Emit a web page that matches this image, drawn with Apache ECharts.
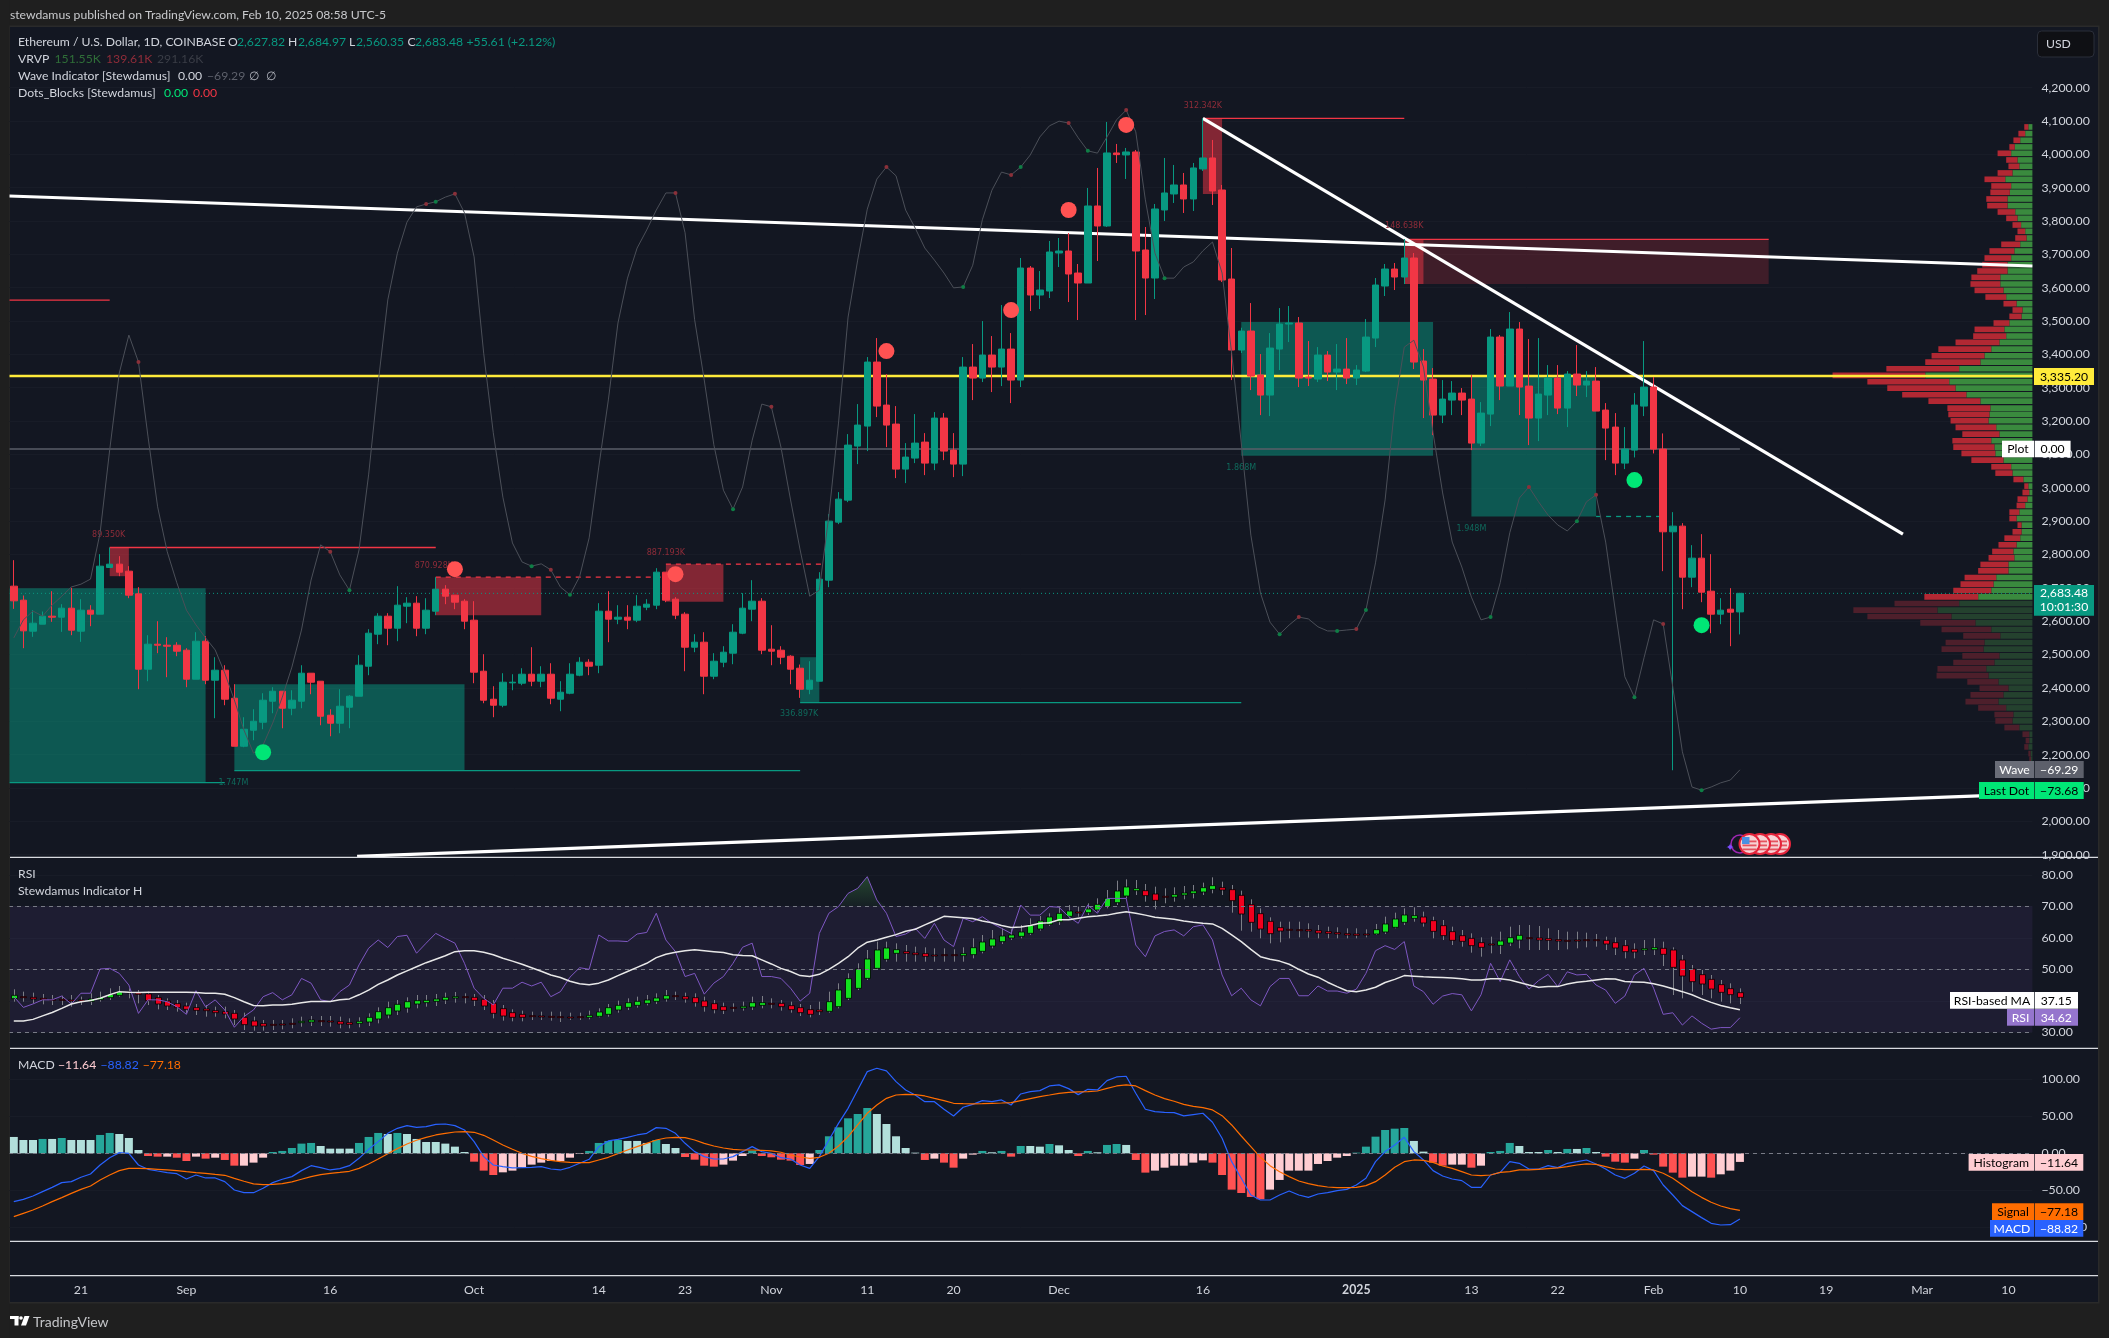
<!DOCTYPE html>
<html><head><meta charset="utf-8"><style>html,body{margin:0;padding:0;background:#1f1f1f}#c{width:2109px;height:1338px}</style>
<script src="https://cdn.jsdelivr.net/npm/echarts@6/dist/echarts.min.js"></script></head><body><div id="c"></div>
<script>
const firstDay='2024-08-14', dayCount=211;
const tickDates=['2024-08-21','2024-09-01','2024-09-16','2024-10-01','2024-10-14','2024-10-23','2024-11-01','2024-11-11','2024-11-20','2024-12-01','2024-12-16','2025-01-01','2025-01-13','2025-01-22','2025-02-01','2025-02-10','2025-02-19','2025-03-01','2025-03-10'];
const tickLabels=['21','Sep','16','Oct','14','23','Nov','11','20','Dec','16','2025','13','22','Feb','10','19','Mar','10'];
const priceTicks=[1900,2000,2100,2200,2300,2400,2500,2600,2700,2800,2900,3000,3100,3200,3300,3400,3500,3600,3700,3800,3900,4000,4100,4200];
const rsiTicks=[30,40,50,60,70,80];
const macdTicks=[-100,-50,0,50,100];
// open, close, low, high
const priceBars=[[2705,2661,2637,2783],[2663,2571,2519,2677],[2570,2594,2553,2633],[2591,2615,2591,2629],[2615,2612,2598,2690],[2612,2639,2568,2651],[2639,2573,2558,2700],[2570,2633,2538,2666],[2633,2621,2585,2648],[2621,2765,2621,2801],
[2761,2771,2761,2821],[2771,2747,2735,2795],[2750,2678,2669,2765],[2682,2456,2396,2702],[2456,2531,2420,2558],[2531,2528,2504,2600],[2528,2525,2432,2552],[2528,2510,2495,2537],[2513,2426,2402,2519],[2426,2540,2426,2567],
[2540,2423,2411,2555],[2423,2453,2309,2492],[2453,2366,2348,2468],[2369,2225,2225,2411],[2225,2276,2222,2312],[2273,2300,2243,2336],[2297,2363,2276,2384],[2360,2390,2324,2402],[2390,2339,2279,2390],[2339,2363,2318,2393],
[2360,2444,2339,2468],[2444,2417,2381,2444],[2420,2315,2288,2420],[2318,2294,2255,2336],[2294,2345,2264,2396],[2342,2375,2279,2378],[2375,2468,2375,2498],[2465,2564,2438,2576],[2561,2615,2531,2624],[2615,2579,2528,2624],
[2579,2648,2540,2705],[2645,2654,2594,2672],[2654,2579,2555,2675],[2579,2633,2561,2669],[2630,2696,2618,2732],[2696,2675,2651,2708],[2678,2657,2636,2678],[2660,2600,2576,2666],[2603,2447,2414,2660],[2450,2363,2354,2501],
[2366,2348,2312,2405],[2348,2417,2342,2444],[2415,2417,2393,2441],[2414,2441,2408,2459],[2441,2420,2405,2522],[2420,2441,2402,2465],[2441,2369,2351,2474],[2366,2387,2330,2420],[2384,2441,2381,2474],[2438,2477,2435,2492],
[2477,2465,2438,2486],[2468,2630,2444,2654],[2630,2606,2537,2690],[2606,2612,2591,2648],[2612,2603,2576,2648],[2603,2645,2597,2678],[2642,2651,2633,2666],[2648,2747,2636,2759],[2747,2663,2657,2747],[2666,2618,2606,2672],
[2621,2522,2450,2627],[2522,2537,2507,2561],[2537,2435,2381,2567],[2435,2480,2426,2504],[2477,2507,2462,2525],[2504,2567,2471,2591],[2564,2639,2561,2684],[2636,2660,2600,2723],[2660,2513,2501,2669],[2516,2510,2468,2588],
[2513,2492,2471,2525],[2495,2456,2411,2498],[2459,2396,2370,2470],[2396,2423,2381,2480],[2420,2726,2420,2747],[2723,2900,2702,2921],[2897,2966,2891,2987],[2963,3128,2957,3161],[3125,3188,3071,3251],[3185,3377,3110,3392],
[3377,3245,3212,3449],[3248,3188,3122,3341],[3191,3056,3029,3245],[3056,3092,3014,3134],[3089,3134,3074,3221],[3137,3074,3038,3164],[3074,3209,3053,3227],[3209,3110,3083,3224],[3113,3071,3032,3164],[3071,3362,3035,3392],
[3362,3329,3263,3431],[3329,3398,3317,3500],[3398,3362,3287,3455],[3362,3416,3305,3548],[3416,3323,3254,3464],[3323,3659,3302,3689],[3659,3578,3530,3665],[3578,3593,3536,3650],[3590,3707,3569,3740],[3704,3710,3662,3749],
[3710,3641,3557,3764],[3644,3614,3503,3671],[3614,3845,3614,3899],[3845,3785,3680,3959],[3785,4004,3782,4097],[4004,3999,3974,4031],[3998,4007,3926,4019],[4007,3710,3503,4013],[3713,3629,3518,3782],[3629,3836,3566,3851],
[3833,3884,3800,3989],[3881,3908,3854,3968],[3908,3866,3824,3944],[3866,3959,3830,3974],[3956,3989,3950,4108],[3989,3890,3848,4043],[3893,3623,3617,3908],[3626,3413,3323,3719],[3413,3470,3404,3480],[3470,3335,3293,3554],
[3338,3278,3218,3401],[3278,3419,3215,3464],[3416,3491,3353,3539],[3491,3494,3437,3545],[3494,3329,3302,3512],[3332,3329,3305,3440],[3326,3398,3317,3422],[3398,3347,3320,3410],[3347,3356,3293,3431],[3356,3329,3311,3449],
[3329,3353,3308,3368],[3350,3452,3347,3506],[3449,3608,3422,3629],[3605,3656,3575,3671],[3656,3632,3593,3674],[3632,3689,3611,3746],[3689,3377,3356,3704],[3380,3323,3209,3416],[3326,3218,3158,3359],[3218,3266,3194,3323],
[3263,3284,3218,3320],[3284,3263,3218,3299],[3266,3134,3113,3338],[3134,3224,3125,3257],[3221,3452,3185,3476],[3452,3305,3263,3458],[3305,3476,3305,3527],[3476,3302,3218,3497],[3305,3209,3128,3446],[3209,3281,3140,3449],
[3278,3329,3218,3368],[3329,3239,3221,3368],[3239,3341,3182,3350],[3341,3308,3275,3428],[3308,3320,3272,3350],[3320,3230,3230,3362],[3233,3179,3083,3254],[3182,3074,3038,3224],[3074,3116,3056,3182],[3113,3248,3091,3284],
[3245,3302,3215,3440],[3302,3116,3103,3332],[3116,2868,2750,3163],[2868,2885,2153,2927],[2885,2732,2636,2894],[2732,2789,2702,2828],[2789,2687,2657,2861],[2690,2621,2564,2801],[2621,2633,2591,2669],[2636,2627,2525,2699],[2627.82,2683.48,2560.35,2684.97]];
const waveValues=[-40.8,-36.9,-35,-36.1,-33.7,-31.8,-29.8,-29.2,-28.1,-18.1,-0.2,16.4,24.6,18.8,2.6,-12.5,-22.2,-28.9,-34.8,-38,-40.8,-43.4,-48.4,-54.2,-60.7,-65.7,-63.9,-59.2,-53.6,-47.1,-39.1,-28.3,-20.7,-22.2,-27.2,-30.5,-21.8,-5.6,14.3,32.2,42.3,49,52.3,52.9,53.4,54.4,55.1,51,41.5,20.7,3.5,-10.4,-20.3,-24.4,-25.3,-24.8,-26.1,-29.8,-31.5,-27.6,-19.2,-3.9,10.6,27.2,36.9,43.4,47.3,51.6,55.3,55.3,46.7,27.9,14.9,0.9,-8.9,-13,-8.2,1.9,9.7,9.1,0.4,-11,-21.8,-31.8,-30.5,-14.3,5.6,28.5,40.8,51.8,58.3,60.9,59,51.6,47.7,43.4,40.8,38,34.8,35,39.7,49.5,55.9,59.8,59.2,60.9,63.5,67.4,69.8,70.8,70.4,67.2,64.4,63.9,67.4,71.1,73.2,68.5,53.8,42.3,36.9,36.9,39.3,40.4,42.8,44.7,38,20.7,1.3,-18.6,-31.1,-37.4,-40,-38,-36.3,-36.7,-38.4,-39.3,-39.3,-39.1,-38.9,-34.8,-24.6,-11,9.1,22,23.5,17.7,3.5,-9.5,-20.1,-25.5,-32,-36.9,-36.3,-28.9,-18.1,-10.6,-8.2,-11.4,-14.3,-16.4,-17.7,-15.6,-11.4,-9.9,-20.1,-34.8,-49.2,-53.6,-45.1,-36.9,-37.8,-51.4,-65.4,-73,-73.7,-73,-72.1,-71.5,-69.29];
const waveRedDots=[13,33,43,46,56,69,79,91,104,110,116,134,140,158,165,172];
const waveGreenDots=[35,44,54,58,75,99,105,112,120,132,138,141,154,163,169,176];
const sellDotDays=[46,69,91,104,110,116];
const sellDotPrices=[2756,2741,3410,3533,3833,4088];
const buyDotDays=[26,169,176];
const buyDotPrices=[2207,3023,2588];
// zones: start day, end day, top price, bottom price
const zoneStart=[-0.5,23,10,44,68,82,124,128,152,145,145];
const zoneEnd=[20,47,12,55,74,84,126,148,165,183,147];
const zoneTop=[2699,2411,2821,2732,2771,2492,4108,3497,3333,3745,3745];
const zoneBottom=[2116,2152,2735,2618,2658,2356,3881,3096,2914,3611,3611];
const zoneKind=['demand','demand','supply','supply','supply','demand','supply','demand','demand','faint','supply'];
const levelStart=[-0.5,23,10,44,68,82,124,152,165,-0.5,145];
const levelEnd=[22,82,44,69,84.4,128,145,152,172,10,183];
const levelPrice=[2116,2152,2821,2732,2771,2356,4108,2914,2914,3563,3745];
const levelKind=['demand','demand','supply','supplyDash','supplyDash','demand','supply','demand','demandDash','supply','supply'];
const zoneLabelText=['89.350K','870.928K','887.193K','1.747M','336.897K','312.342K','148.638K','1.868M','1.948M'];
const zoneLabelDay=[9.9,43.8,68,22.9,81.9,124,145,128,152];
const zoneLabelPrice=[2859,2766,2805,2116,2323,4146,3785,3061,2878];
const zoneLabelKind=['supply','supply','supply','demand','demand','supply','supply','demand','demand'];
const lastClose=2683.48, pocPrice=3335.20, plotZeroPrice=3116.2;
const trendUpperDays=[-0.5,210.5], trendUpperPrices=[3875,3665];
const trendDownDays=[124,197], trendDownPrices=[4108,2861];
const trendLowerDays=[35.8,210.5], trendLowerPrices=[1895,2082];
const profilePrice=[4082,4062,4042,4022,4003,3983,3964,3944,3925,3905,3886,3866,3846,3827,3808,3788,3769,3749,3730,3710,3689,3669,3650,3631,3611,3592,3572,3552,3533,3514,3494,3475,3455,3436,3416,3396,3377,3357,3337,3318,3299,3279,3260,3239,3220,3201,3181,3161,3141,3122,3103,3083,3063,3044,3025,3005,2986,2966,2947,2927,2908,2888,2868,2849,2829,2809,2790,2770,2751,2731,2711,2692,2673,2653,2633,2614,2595,2575,2556,2536,2516,2496,2476,2457,2437,2418,2399,2379,2359,2340,2320,2301,2281,2261,2242,2223,2203,2186];
const profileUp=[9,16,27,39,47,33,29,44,60,47,50,55,55,38,33,25,16,13,27,40,47,55,55,71,71,64,58,35,22,24,51,62,58,73,91,106,115,162,237,184,170,146,115,93,95,97,80,73,91,84,82,64,47,44,20,9,7,11,16,29,35,24,24,27,35,42,40,53,53,80,86,91,120,162,210,179,126,91,71,106,108,73,84,102,97,75,53,64,75,58,42,44,29,7,7,9,4,3];
const profileDown=[9,15,15,12,30,25,24,33,46,44,43,47,45,39,25,19,17,25,42,55,59,56,67,64,66,64,46,29,22,27,35,66,73,97,117,117,122,161,205,181,151,142,115,95,91,84,90,82,86,91,75,71,44,38,22,9,15,22,19,22,16,9,20,35,40,47,57,62,67,70,73,84,119,143,186,186,122,110,82,86,93,82,91,108,115,69,64,73,73,62,42,38,33,15,8,9,5,4];
const rsiValues=[41.3,37.9,39,40.3,40.3,41.5,39,42.4,42.4,50.1,50.3,48.7,45,36,40.3,40.3,39.7,38.1,35.7,43.2,38.1,40.3,37.1,31.6,35,37.1,41.3,42.6,40.3,41.9,47.1,45.6,40.3,39.7,42.9,45,51.4,56.7,59.3,56.9,60.4,60.8,55.1,58.3,61.4,59.8,58.3,51.9,44,40.8,38.7,44,44,45.9,44.7,45.9,41.3,42.9,47.5,50.5,50,60.9,59,59,58.8,61.2,61.7,67.8,59.3,55.6,47.7,48.7,42.1,45.6,47.7,51.9,57,58.3,47.7,47.7,47.1,44,39.9,42.4,61.4,67.8,69.9,74.1,75.7,79.4,72,67.8,60.4,61.2,63,59.8,64.6,59.3,57.2,66.2,65.1,66.7,64.6,63,61.4,70.4,67.2,67.2,69.9,69.7,66.7,64.6,70.4,67.8,72.5,72.5,72.5,57.7,54,60.6,62,62.5,60.6,63.5,64.1,59.3,48.2,41.6,44,40.3,38.4,44.5,47.1,47.1,41.6,41.6,44.7,43.1,43.1,42.4,43.7,48.7,55.9,57.5,56.3,58.8,44.7,42.9,38.9,41.5,42.3,41.9,36.8,41.9,51.9,46.1,53,47.7,43.7,46.4,48.4,44.5,49.2,48.2,48.4,45,43.4,39.2,41.5,48.2,50.3,44,35.7,36.2,32.3,35.2,32.9,31,31.5,31.5,34.62];
const rsiMaValues=[33.6,33.6,34.1,35.2,36.3,37.6,39,39.7,40.1,40.8,41.9,42.9,42.7,42.6,42.7,42.7,42.7,42.7,42.7,42.6,42.4,42.4,42.1,41,39.7,38.5,38.4,38.7,38.7,38.9,39.4,39.8,39.8,39.8,40.3,40.6,41.9,43.4,45.2,46.6,48.2,49.5,50.8,52.1,53.2,54.3,55.6,55.9,55.9,55.4,54.6,53.5,52.6,51.6,50.5,49.4,48.2,47.4,46.2,45.4,45.1,45.6,46.6,48,49.3,50.6,51.9,53.7,54.8,55.4,55.9,56.2,55.9,55.6,55.3,54.6,54.4,54.3,53,51.7,50.3,49.3,48,47.7,48.4,50,51.9,54,56.7,58.6,59.3,60.2,61,62.1,62.7,64.1,65.4,66.8,66.6,66.4,66.1,65.3,64.8,63.9,63.3,63.4,63.9,64.6,64.8,65.7,65.7,66.2,66.7,66.9,67.2,67.8,68.3,67.8,67.2,66.5,66.2,65.9,65.3,64.9,64.6,64.4,63,60.9,58.8,56.3,54,53.2,52.6,51.6,50,48.5,47.5,45.9,44.5,43.2,42.9,43.4,44.3,45.8,46.8,48,47.8,47.6,47.5,47.4,47.2,47,46.6,46.6,47,47,46.6,45.8,45,44.3,44.5,44.5,45.3,45.9,46.2,46.6,47,46.9,46.1,46,45.9,45.4,44.7,43.8,42.9,41.9,40.6,39.5,38.5,37.8,37.15];
// Stewdamus Indicator H (own hidden scale): open, close, low, high
const indicatorBars=[[58.4,59.4,57.5,61.2],[59,58.8,57.5,60.5],[58.8,58.3,57,60.2],[58.5,58.1,56.7,59.8],[58.2,58.1,56.5,59.5],[58.2,58,56.5,59.3],[58,57.9,56,59.5],[58,57.9,56.5,59],[57.6,58.3,56.5,60],[58.1,58.8,57.5,60.5],
[58.7,59.7,58,61.5],[59.4,60.5,59,62.2],[60.4,60.2,58.5,61.5],[60.1,59.7,57,61],[59.8,57.8,56.5,60.5],[58.7,56.8,55.2,59.5],[57.7,56.2,55,58.5],[56.9,55.7,54.5,58],[56.2,55.2,54,57.2],[55.7,54.9,53.5,56.8],
[55.3,54.8,53,56.5],[54.8,54.2,53,56],[54.5,53.8,52.5,56],[54,52.3,50.5,55],[52.8,50.6,49,54.2],[51.7,50.2,48.8,53],[50.9,50.2,48.8,52],[50.7,50.6,49,52],[50.8,50.7,49.2,52],[51,50.9,49.5,52.5],
[51.2,51.6,50,53],[51.4,52,50.2,53.2],[51.8,51.6,50.2,53.2],[51.7,51.4,50,53.2],[51.5,50.8,49.5,53],[51.2,50.7,49.5,52.5],[51,51.6,49.8,52.8],[51.4,52.8,50.2,54],[52.3,54.5,51,55.8],[53.5,55.7,52.5,57.5],
[54.7,56.7,53.5,58],[55.6,57.5,54.2,58.8],[56.8,57.8,55.5,59.5],[57.2,57.9,56,59.5],[57.6,58.3,56.2,59.8],[58,58.8,56.8,60.2],[58.6,59,57.2,60.4],[59,58.8,57,60],[58.8,57.9,56.2,59.8],[58.2,56.2,55,59.5],
[57,54,52.5,58],[55.4,53.2,51.8,56.5],[54.2,52.8,51.6,55.2],[53.7,52.8,51.6,54.8],[53.3,53.1,52,54.5],[53.2,53,52,54.5],[53.1,53,51.8,54.5],[53,52.7,51.4,54.5],[52.9,52.8,52,54.2],[53,52.8,52,54.2],
[52.8,53.4,52.2,54.8],[53.1,54.4,52.8,55.5],[53.7,55.7,53,56.8],[55,56.4,54.2,57.8],[55.8,57.2,55,58.5],[56.4,57.6,55.7,59],[57,58,56.4,59.5],[57.6,58.6,56.8,60],[58.3,59.3,57.5,61],[59.3,59,58,60.5],
[59,58.3,57.2,60.2],[58.7,57.2,56,60],[57.7,56,54.5,59],[56.9,55.1,54,58],[56,54.9,53.8,57.2],[55.8,55.5,54.5,57],[55.6,56.1,54.8,57.5],[55.9,57.2,55,59],[56.4,57.2,55.5,59.2],[57,56.9,55.5,58.5],
[57,56,54.8,58],[56.3,55.1,54.2,57.5],[55.7,54.2,53.2,56.8],[55.1,53.7,52.8,56.5],[55,54.5,53.5,57.5],[54.6,57.5,54.2,60.5],[56,61,55.5,63],[58.5,64.4,58,66],[61.5,67.3,61,69],[64.5,70.3,64,73],
[67.5,73,67,75.5],[70.2,73.6,69.5,75.5],[72,73.1,69.5,75],[72.5,72,69.5,74.5],[72.1,71.6,69.5,74],[71.9,71.1,69.5,73.8],[71.5,71.3,69.5,73.5],[71.6,71.4,69.5,73.5],[71.6,71.3,69.5,73.2],[71.3,71.9,69.5,73.8],
[71.6,73.7,70.5,76.5],[72.6,75.4,72,77.5],[74.2,76.3,73.5,79],[75.5,77.2,74.8,79.5],[76.6,77.5,76,79.2],[77.1,78.4,76.5,80.5],[78,80.5,77.5,82.5],[79.3,81.7,78.8,83.2],[80.7,82.9,80.2,84],[81.5,84,80.5,86],
[83.1,84.7,82.5,86.5],[84.4,84.2,83,86],[84.2,85.3,83.5,87],[85,86.7,84.5,88.5],[86,88.5,85.5,91],[87.2,90.7,86.5,93.8],[89.2,91.9,88.5,94.2],[90.8,91.4,89.5,94],[90.8,89.3,87.5,92.8],[89.8,87.9,85.2,92],
[89.1,88.8,87,91.5],[88.9,89.6,87.5,91.8],[89.5,90.1,88.2,92.2],[90,90.7,88.5,92.5],[90.4,91.7,89.5,93.2],[91.2,92.3,90,94.8],[91.7,91,89.5,93.5],[91.1,87.8,84.2,92.5],[89.4,83.8,78.8,90.8],[86.6,81.3,78.5,88.2],
[83.9,79.3,76.5,85.5],[81.6,77.9,75,82.8],[79.7,78.7,75.3,81.5],[79.2,79,76.5,81.5],[79.1,79,76.8,81.5],[79.1,78.7,76.7,81],[78.8,78.1,76.5,80.5],[78.5,78,76.5,80],[78.2,77.8,76.5,79.8],[77.9,77.5,76.5,79.5],
[77.8,77.4,76.5,79.5],[77.8,77.6,76.8,79.2],[77.8,79.1,77.5,80.8],[78.4,80.8,77.8,83],[79.8,82.3,79.5,84.2],[81.3,83.5,80.5,85.5],[82.5,83.3,81.5,85.8],[82.9,81.1,80,84.5],[81.8,78.6,76.5,83],[80.3,77.3,76,82],
[78.5,75.9,74.5,80],[77.3,75.6,74,79],[76.5,74.3,72.2,78],[75.2,73.8,71,76.8],[74.8,74.6,72,77],[74.4,75.7,71.8,78.5],[75.1,76.7,74.2,80],[76,77.4,73.5,80.5],[76.7,76.5,73,80.5],[76.6,76,73,80.2],
[76.4,75.9,73,79.5],[76.1,75.7,73,79],[75.9,75.7,73.2,78.5],[76,75.9,73.5,78.5],[76.1,76,73.8,78.2],[76.1,75.9,74,77.8],[75.9,74.8,73,77],[75.2,73.6,71.5,76.8],[74.3,72.5,70.5,76],[73.2,72.4,70.5,75],
[73,73.4,71.5,76],[73.1,73.7,71.5,76.5],[73.5,71.7,68.2,75.5],[73,67.8,59.5,73.8],[70,65.2,58.5,71.5],[67.3,63.5,60.5,68.5],[65.6,62.8,59.5,67],[64.2,61.3,58.5,65.5],[62.6,60.3,57.5,64],[61.4,59.6,57,63],[60.2,58.8,56.8,61.5]];
const macdHist=[22.1,18,18,19.4,19.4,20.7,18,18,18,24.8,27.5,26.1,20.7,4.5,-3.6,-4.5,-4.5,-5.9,-10.4,-4.5,-7.2,-5.9,-9,-16.7,-16.7,-12.6,-5.9,1.8,3.2,7.2,13.1,14,9.9,6.3,6.3,6.3,14,22.1,27.5,26.1,27.5,26.1,19.4,15.3,15.3,13.1,9,1.8,-11.3,-23.4,-29.3,-25.7,-23.4,-18.9,-15.3,-12.6,-10.4,-10.4,-5.9,-0.9,3.2,14,16.7,18,16.7,16.7,14,18,12.6,7.2,-5,-8.6,-16.7,-18,-15.3,-9.9,-3.6,3.6,-3.6,-5.4,-8.6,-9.9,-15.8,-14.4,4.5,23,35.1,47.3,53.1,61.2,53.1,39.6,23,7.2,0.9,-9,-7.2,-12.6,-19.4,-7.2,-1.8,3.2,1.4,3.2,-4.5,9.9,9.9,9,12.6,10.8,4.5,-3.6,3.2,1.4,11.3,12.6,11.3,-9,-26.1,-23.4,-19.4,-16.7,-16.7,-12.6,-9.5,-12.6,-29.3,-49.1,-53.6,-59,-62.1,-49.1,-36,-23.4,-23.4,-23.4,-14.4,-10.4,-5.9,-3.6,0.9,9,22.5,31.5,33.3,34.2,16.7,2.3,-12.6,-16.7,-15.3,-15.3,-19.4,-16.7,1.8,3.2,14,9.9,1.8,1.8,4.5,1.8,5.9,5.9,7.2,1.8,-4.5,-11.3,-12.6,-7.2,4.5,-1.8,-18,-26.1,-32.9,-31.5,-31.5,-32.9,-28.4,-23.4,-11.64];
const macdLine=[-65.3,-62.2,-57.7,-51.8,-46,-39.6,-38.3,-32.4,-27.9,-15.8,-5.9,0.9,0,-15.8,-21.6,-23.9,-26.1,-27.5,-34.7,-29.3,-33.3,-33.3,-38.3,-49.6,-53.2,-53.2,-47.3,-39.6,-35.1,-31.5,-23.4,-16.7,-19.4,-22.5,-20.7,-16.7,-6.8,5.4,15.8,27,33.8,37.4,35.1,36,39.2,39.6,37.4,31.5,15.8,-4.5,-15.8,-18,-19.8,-19.4,-18.9,-18,-21.2,-22.5,-18.9,-13.5,-8.1,9,16.7,18.9,21.6,24.8,27,34.7,33.8,27,13.5,2.3,-4.5,-7.7,-7.7,-4.5,2.3,9,2.3,0,-5.9,-7.7,-15.8,-20.3,-4.5,18,40.5,60.8,85.6,110.4,114.9,111.3,96.9,85.6,78.8,69.8,69.8,59.5,50.5,62.2,66.2,71.2,69.8,72.1,65.3,80.2,83.3,84.7,91,92.4,87.4,79.3,86.5,85.6,98.2,103.2,104.1,81.1,59.5,56.3,55.4,55,50.5,52.3,54.1,41.9,20.3,-11.3,-33.8,-56.3,-63.1,-63.1,-56.3,-50.9,-56.3,-59.5,-55,-53.2,-50.5,-48.7,-42.8,-33.8,-11.3,2.3,11.3,21.6,2.3,-9,-23.4,-30.6,-34.7,-36.9,-46,-46,-29.3,-25.7,-11.3,-13.5,-21.2,-21.2,-16.7,-19.4,-13.5,-11.3,-9,-14.4,-21.2,-29.3,-33.8,-27,-17.1,-23.4,-42.8,-56.3,-70.7,-78.8,-86.9,-94.6,-96.9,-96.4,-88.82];
const macdSignal=[-85.6,-81.1,-76.6,-71.2,-65.3,-59.9,-54.1,-48.7,-44.1,-36,-29.3,-23.4,-20.3,-20.3,-20.7,-21.6,-22.5,-23.4,-24.8,-26.1,-27,-28.4,-29.7,-33.8,-37.8,-41.4,-42.3,-41.9,-41,-38.7,-35.1,-31.5,-28.8,-27,-25.7,-24.3,-20.3,-14.4,-7.7,-0.5,6.3,12.6,17.6,21.6,24.8,27,28.8,29.3,28.4,24.3,18,11.3,5.4,0,-4.1,-7.2,-9.5,-11.3,-12.2,-12.6,-12.6,-9,-5.4,-0.5,4.5,9,13.5,18,20.7,21.6,21.2,18,13.5,9.9,7.2,5.4,4.5,4.5,4.1,3.2,1.4,-2.3,-5,-6.8,-5.4,0,9.9,22.5,38.3,54.1,65.3,74.3,78.8,79.7,79.3,77.5,74.3,71.2,67.6,67.1,66.7,67.1,67.6,68,68.5,71.2,73.9,76.6,78.8,81.1,82.4,82.9,83.3,84.2,87.8,91,92.4,91,84.7,78.8,73.9,70.3,66.2,63.5,61.7,58.6,50.9,38.3,23.4,9,-5.4,-16.7,-24.8,-31.5,-37.4,-41,-43.7,-45.5,-46.4,-46.4,-46,-43.7,-38.3,-29.3,-18.9,-11.3,-9,-9.5,-12.2,-17.1,-20.3,-24.8,-29.3,-30.2,-29.3,-25.7,-24.8,-22.5,-22.5,-21.6,-20.7,-19.8,-18,-15.8,-14.4,-14.9,-18,-21.2,-22.1,-22.1,-21.6,-22.5,-27,-33.8,-42.8,-51.8,-59.5,-66.2,-71.2,-74.8,-77.18];

const FONT='Lato', TXT='#d1d4dc', UP='#089981', DOWN='#f23645', YEL='#ffeb3b';
const categories=[];{const s=new Date(firstDay+'T00:00:00Z');for(let i=0;i<dayCount;i++){categories.push(new Date(s.getTime()+i*864e5).toISOString().slice(0,10));}}
const tickIndex={};tickDates.forEach((d,n)=>{tickIndex[categories.indexOf(d)]=tickLabels[n]});
const fmt=v=>(v<0?'\u2212':'')+Math.abs(v).toLocaleString('en-US',{minimumFractionDigits:2,maximumFractionDigits:2});

const L=9,W=2023.4;
const grids=[{left:L,width:W,top:27,height:830},{left:L,width:W,top:858,height:190.3},{left:L,width:W,top:1048.3,height:193},{left:L,width:W,top:1241.3,height:34.4}];
const hiddenCat=g=>({type:'category',gridIndex:g,data:categories,boundaryGap:true,show:false});
const xAxis=[hiddenCat(0),
 {type:'value',gridIndex:0,min:-0.5,max:210.5,show:false},
 {type:'value',gridIndex:0,min:0,max:4475,inverse:true,show:false},
 hiddenCat(1),hiddenCat(2),
 {type:'category',gridIndex:3,data:categories,boundaryGap:true,axisLine:{show:false},axisTick:{show:false},splitLine:{show:false},
  axisLabel:{interval:i=>tickIndex[i]!==undefined,formatter:(v,i)=>tickIndex[i]==='2025'?'{b|2025}':tickIndex[i],color:TXT,fontFamily:FONT,fontSize:12.3,margin:8,hideOverlap:false,rich:{b:{fontWeight:'bold',color:TXT,fontFamily:FONT,fontSize:12.3}}}}];
const faint={show:true,lineStyle:{color:'#181c27',width:1}};
const valAxis=(g,min,max,ticks)=>({type:'value',gridIndex:g,position:'right',min,max,axisLine:{show:false},
 axisTick:{show:false,customValues:ticks},splitLine:faint,
 axisLabel:{customValues:ticks,formatter:fmt,color:TXT,fontFamily:FONT,fontSize:12.3,margin:9,showMinLabel:true,showMaxLabel:true}});
const hiddenVal=(g,min,max)=>({type:'value',gridIndex:g,min,max,show:false});
const yAxis=[valAxis(0,1892.9,4381.7,priceTicks),hiddenVal(0,-88.12,91.14),valAxis(1,24.92,85.33,rsiTicks),hiddenVal(1,43.51,100.6),valAxis(2,-118.9,141.9,macdTicks),hiddenVal(3,0,1)];

const zoneFill={demand:'rgba(8,153,129,0.5)',supply:'rgba(242,54,69,0.5)',faint:'rgba(242,54,69,0.2)'};
const lineLook={demand:{c:UP},demandDash:{c:UP,d:[5,5]},supply:{c:DOWN},supplyDash:{c:DOWN,d:[5,5]}};
const labelColor={demand:'#0f6a5c',supply:'#8f2c39'};
const profileSeries={type:'custom',xAxisIndex:2,yAxisIndex:0,z:1,silent:true,clip:false,data:profilePrice.map((p,i)=>[profileUp[i],p,profileDown[i]]),
 renderItem(params,api){const i=params.dataIndex,p=profilePrice[i],u=profileUp[i],d=profileDown[i],bright=p>=2660;
  const h=api.size([0,17])[1],r=api.coord([0,p]),a=api.coord([u,p]),b=api.coord([u+d,p]),y=r[1]-h/2;
  return {type:'group',children:[
   {type:'rect',shape:{x:a[0],y,width:r[0]-a[0],height:h},style:{fill:bright?'#3a8a3e':'#24412e'}},
   {type:'rect',shape:{x:b[0],y,width:a[0]-b[0],height:h},style:{fill:bright?'#b22833':'#4d1f2b'}}]};}};
const zoneSeries={type:'custom',xAxisIndex:1,yAxisIndex:0,z:2,silent:true,data:zoneStart.map((s,i)=>[s,zoneTop[i],zoneEnd[i],zoneBottom[i]]),
 renderItem(params,api){const i=params.dataIndex,a=api.coord([zoneStart[i],zoneTop[i]]),b=api.coord([zoneEnd[i],zoneBottom[i]]);
  return {type:'rect',shape:{x:a[0],y:a[1],width:b[0]-a[0],height:b[1]-a[1]},style:{fill:zoneFill[zoneKind[i]]}};}};
const levelSeries={type:'custom',xAxisIndex:1,yAxisIndex:0,z:3,silent:true,data:levelStart.map((s,i)=>[s,levelPrice[i],levelEnd[i]]),
 renderItem(params,api){const i=params.dataIndex,a=api.coord([levelStart[i],levelPrice[i]]),b=api.coord([levelEnd[i],levelPrice[i]]),k=lineLook[levelKind[i]];
  return {type:'line',shape:{x1:a[0],y1:a[1],x2:b[0],y2:b[1]},style:{stroke:k.c,lineWidth:1.3,lineDash:k.d||null}};}};
const zoneLabelSeries={type:'custom',xAxisIndex:1,yAxisIndex:0,z:4,silent:true,data:zoneLabelDay.map((d,i)=>[d,zoneLabelPrice[i]]),
 renderItem(params,api){const i=params.dataIndex,a=api.coord([zoneLabelDay[i],zoneLabelPrice[i]]);
  return {type:'text',style:{x:a[0],y:a[1],text:zoneLabelText[i],fill:labelColor[zoneLabelKind[i]],font:'8px "DejaVu Sans"',textAlign:'center',textVerticalAlign:'middle'}};}};
const seg=(days,prices,color,width,z)=>({type:'line',xAxisIndex:1,yAxisIndex:0,z,symbol:'none',silent:true,data:days.map((d,i)=>[d,prices[i]]),lineStyle:{color,width}});
const candle={type:'candlestick',xAxisIndex:0,yAxisIndex:0,z:5,barWidth:7,silent:true,data:priceBars,
 itemStyle:{color:UP,color0:DOWN,borderColor:UP,borderColor0:DOWN,borderWidth:1}};
const wave={type:'line',xAxisIndex:0,yAxisIndex:1,z:6,symbol:'none',silent:true,data:waveValues,lineStyle:{color:'#4b4f58',width:1}};
const pts=(idx,vals)=>idx.map((d,i)=>[d,vals(i,d)]);
const dots=(idx,fn,color,size,yi,z)=>({type:'scatter',xAxisIndex:0,yAxisIndex:yi,z,symbolSize:size,silent:true,data:pts(idx,fn),itemStyle:{color,opacity:1}});
const indicatorSeries={type:'custom',xAxisIndex:3,yAxisIndex:3,z:4,silent:true,data:indicatorBars.map((r,i)=>[i,r[0]]),
 renderItem(params,api){const i=params.dataIndex,r=indicatorBars[i],up=r[1]>=r[0];
  const x=Math.round(api.coord([i,r[0]])[0])+0.5,ya=api.coord([i,r[0]])[1],yb=api.coord([i,r[1]])[1],yl=api.coord([i,r[2]])[1],yh=api.coord([i,r[3]])[1];
  const top=Math.min(ya,yb),bot=Math.max(ya,yb);
  return {type:'group',children:[
   {type:'line',shape:{x1:x,y1:yh,x2:x,y2:yl},style:{stroke:'#7d7f87',lineWidth:1}},
   {type:'rect',shape:{x:x-3,y:top,width:6,height:Math.max(bot-top,1)},style:{fill:up?'#12e21e':'#f0001e',stroke:'#000',lineWidth:0.8}}]};}};
const rsiLine={type:'line',xAxisIndex:3,yAxisIndex:2,z:5,symbol:'none',silent:true,data:rsiValues,lineStyle:{color:'#7e57c2',width:1},
 markArea:{silent:true,z:1,itemStyle:{color:'rgba(126,87,194,0.1)'},data:[[{yAxis:70,x:L+1},{yAxis:30,x:L+W}]]},
 markLine:{silent:true,symbol:'none',label:{show:false},lineStyle:{color:'#787b86',type:[4,4],width:1},data:[{yAxis:70},{yAxis:50},{yAxis:30}]}};
const overbought={type:'custom',xAxisIndex:3,yAxisIndex:2,z:3,silent:true,data:[[86,70]],
 renderItem(params,api){const points=[];for(let i=86;i<=91;i++)points.push(api.coord([i,Math.max(rsiValues[i],70)]));
  return {type:'polygon',shape:{points},style:{fill:new echarts.graphic.LinearGradient(0,0,0,1,[{offset:0,color:'rgba(76,175,80,0.3)'},{offset:1,color:'rgba(76,175,80,0.05)'}])}};}};
const rsiMa={type:'line',xAxisIndex:3,yAxisIndex:2,z:6,symbol:'none',silent:true,data:rsiMaValues,lineStyle:{color:'#e8e8e8',width:1.5}};
const histColor=i=>{const v=macdHist[i],p=i?macdHist[i-1]:v;return v>=0?(v>p?'#26a69a':'#b2dfdb'):(v<p?'#ff5252':'#ffcdd2')};
const hist={type:'bar',xAxisIndex:4,yAxisIndex:4,z:2,silent:true,barWidth:8,data:macdHist,itemStyle:{color:p=>histColor(p.dataIndex)},
 markLine:{silent:true,symbol:'none',label:{show:false},lineStyle:{color:'#787b86',type:[4,4],width:1},data:[{yAxis:0}]}};
const mline=(d,c,w)=>({type:'line',xAxisIndex:4,yAxisIndex:4,z:4,symbol:'none',silent:true,data:d,lineStyle:{color:c,width:w}});
const grey3={type:'line',xAxisIndex:5,yAxisIndex:5,symbol:'none',silent:true,data:[],lineStyle:{width:0}};

const series=[profileSeries,zoneSeries,levelSeries,zoneLabelSeries,
 seg([-0.5,210.5],[pocPrice,pocPrice],YEL,2.6,3),
 seg([-0.5,180],[plotZeroPrice,plotZeroPrice],'#5a5e68',1.4,3),
 {...seg([-0.5,210.5],[lastClose,lastClose],UP,1,3),lineStyle:{color:UP,width:1,type:[1,3]}},
 seg(trendUpperDays,trendUpperPrices,'#ffffff',3.2,3.5),seg(trendDownDays,trendDownPrices,'#ffffff',3.2,3.5),seg(trendLowerDays,trendLowerPrices,'#ffffff',3.2,3.5),
 candle,wave,
 dots(waveRedDots,(n,d)=>waveValues[d],'#8a3039',4,1,7),dots(waveGreenDots,(n,d)=>waveValues[d],'#0f7d45',4,1,7),
 dots(sellDotDays,n=>sellDotPrices[n],'#ff5252',16,0,8),dots(buyDotDays,n=>buyDotPrices[n],'#00e676',16,0,8),
 overbought,indicatorSeries,rsiLine,rsiMa,hist,mline(macdLine,'#2962ff',1.2),mline(macdSignal,'#ff6d00',1.2),grey3];

// ---- page furniture ----
const FZ=12.2, g=[];
const rect=(x,y,w,h,fill,z,extra)=>({type:'rect',shape:{x,y,width:w,height:h,...(extra||{})},style:{fill},z,silent:true});
const text=(x,y,t,fill,z,opt)=>({type:'text',x,y,z:z||60,silent:true,style:{text:t,fill,font:(opt&&opt.font)||`${FZ}px ${FONT}`,textAlign:(opt&&opt.align)||'left',textVerticalAlign:'middle'}});
const hline=(y)=>({type:'line',shape:{x1:10,y1:y,x2:2098,y2:y},style:{stroke:'#d8dae0',lineWidth:1.3},z:40,silent:true});
g.push(rect(8.5,25.5,2091,1278,'#2a2a2a',-3),rect(10,27,2088,1275,'#131722',-2));
g.push(rect(0,0,9.5,1338,'#1f1f1f',30),hline(857.3),hline(1048.3),hline(1241.3),hline(1275.7));
g.push(text(10,15,'stewdamus published on TradingView.com, Feb 10, 2025 08:58 UTC-5','#c8c9cc',60));
const legend=(y,items)=>items.forEach(it=>g.push(text(it[0],y,it[1],it[2],60)));
legend(42,[[18,'Ethereum / U.S. Dollar, 1D, COINBASE',TXT],[228,'O',TXT],[237,'2,627.82',UP],[288,'H',TXT],[298,'2,684.97',UP],[349,'L',TXT],[356,'2,560.35',UP],[407.6,'C',TXT],[415,'2,683.48',UP],[466.5,'+55.61 (+2.12%)',UP]]);
legend(59.5,[[18,'VRVP',TXT],[54.5,'151.55K','#2f6e38'],[106,'139.61K','#8f2c39'],[157,'291.16K','#3a3d46']]);
legend(76.5,[[18,'Wave Indicator [Stewdamus]',TXT],[178,'0.00',TXT],[207,'\u221269.29','#5d606b'],[249,'\u2205','#b2b5be'],[265.6,'\u2205','#b2b5be']]);
legend(93.5,[[18,'Dots_Blocks [Stewdamus]',TXT],[164,'0.00','#00e676'],[193,'0.00','#f23645']]);
legend(873.7,[[18,'RSI',TXT]]);
legend(890.7,[[18,'Stewdamus Indicator H',TXT]]);
legend(1065,[[18,'MACD',TXT],[58,'\u221211.64','#ffcdd2'],[100.5,'\u221288.82','#2962ff'],[142.7,'\u221277.18','#ff6d00']]);
// scale tags
const tag=(x0,x1,y0,y1,fill,t,color)=>[rect(x0,y0,x1-x0,y1-y0,fill,50),text((x0+x1)/2,(y0+y1)/2+0.5,t,color,51,{align:'center'})];
const pair=(xl,xr,y0,y1,lf,vf,lt,vt,c)=>[...tag(xl,2034,y0,y1,lf,lt,c),...tag(2034.7,xr,y0,y1,vf,vt,c)];
g.push({type:'rect',shape:{x:2037.5,y:31,width:56.5,height:26,r:4},style:{fill:'#0f1014',stroke:'#2a2e39',lineWidth:1},z:50,silent:true},text(2046,44.5,'USD',TXT,51));
g.push(...tag(2034,2094,368,385,YEL,'3,335.20','#000'));
g.push(...pair(2002,2070.6,440.7,457.3,'#fff','#fff','Plot','0.00','#000'));
g.push(rect(2034,585,60,30.7,UP,50),text(2064,593.5,'2,683.48','#fff',51,{align:'center'}),text(2064,607,'10:01:30','#fff',51,{align:'center'}));
g.push(...pair(1995,2083.7,761,778,'#6a6d78','#5d606b','Wave','\u221269.29','#fff'));
g.push(...pair(1979,2083.7,782,799,'#00e676','#00e676','Last Dot','\u221273.68','#000'));
g.push(...pair(1950,2078,992,1008.7,'#fff','#fff','RSI-based MA','37.15','#000'));
g.push(...pair(2007,2078,1009,1025.7,'#9575cd','#9575cd','RSI','34.62','#fff'));
g.push(...pair(1968.6,2083.3,1154,1170.7,'#ffcdd2','#ffcdd2','Histogram','\u221211.64','#000'));
g.push(...pair(1992,2083.3,1203.3,1220,'#ff6d00','#ff6d00','Signal','\u221277.18','#000'));
g.push(...pair(1990,2083.3,1220,1236.7,'#2962ff','#2962ff','MACD','\u221288.82','#fff'));
// event icons
const ev=[1780,1771,1760,1749.5];
g.push({type:'circle',shape:{cx:1740,cy:844,r:9},style:{fill:'none',stroke:'#9c27b0',lineWidth:1.5},z:45,silent:true});
g.push(text(1730,848,'\u2726','#7c4dff',46,{align:'center',font:'11px "DejaVu Sans"'}));
ev.forEach((cx,n)=>{g.push({type:'circle',shape:{cx,cy:844,r:10},style:{fill:'#f6d3d5',stroke:'#e5243b',lineWidth:2},z:46+n*0.1,silent:true});
 [-3.5,0.5,4.5].forEach(d=>g.push(rect(cx-7,844+d,14,1.8,'#e5535f',46.02+n*0.1)));
 if(n===3)g.push(rect(cx-7.5,837,7.5,7,'#4a90e2',46.5));});
// footer logo
g.push(rect(10,1316,8.5,3,'#fff',60),rect(14.5,1316,4,9.5,'#fff',60),{type:'circle',shape:{cx:21,cy:1318,r:1.8},style:{fill:'#fff'},z:60,silent:true},{type:'polygon',shape:{points:[[24.5,1316],[29.5,1316],[26,1325.5],[21,1325.5]]},style:{fill:'#fff'},z:60,silent:true});
g.push(text(33,1322,'TradingView','#c4c5c8',60,{font:`14px ${FONT}`}));

const chart=echarts.init(document.getElementById('c'),null,{renderer:'canvas',width:2109,height:1338});
chart.setOption({backgroundColor:'#1f1f1f',animation:false,tooltip:{show:false},grid:grids,xAxis,yAxis,series,graphic:{elements:g}});
</script></body></html>
